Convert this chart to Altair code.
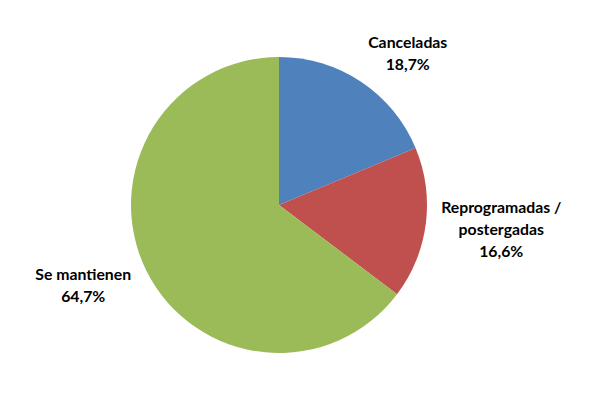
import altair as alt
import pandas as pd

categories = ["Canceladas", "Reprogramadas /\npostergadas", "Se mantienen"]
values = [18.7, 16.6, 64.7]
colors = ["#4F81BD", "#C0504D", "#9BBB59"]

df = pd.DataFrame({"cat": categories, "value": values, "order": [0, 1, 2]})
total = sum(values)
theta_scale = alt.Scale(domain=[0, total], zero=True, nice=False)

base = alt.Chart(df).transform_stack(
    stack="value", groupby=[], as_=["v0", "v1"], sort=[alt.SortField("order", order="ascending")]
).transform_calculate(
    mid="(datum.v0 + datum.v1) / 2",
    lbl="datum.cat + '\\n' + replace(format(datum.value, '.1f'), '.', ',') + '%'",
)

pie = base.mark_arc(outerRadius=148).encode(
    theta=alt.Theta("v0:Q", scale=theta_scale),
    theta2="v1:Q",
    color=alt.Color("cat:N", scale=alt.Scale(domain=categories, range=colors), legend=None),
)

def label(cat, radius, dx, dy):
    return base.transform_filter(alt.datum.cat == cat).mark_text(
        radius=radius, dx=dx, dy=dy, font="Lato", fontSize=15.8, fontWeight="bold",
        lineBreak="\n", lineHeight=22, align="center", baseline="middle", color="#000000"
    ).encode(
        theta=alt.Theta("mid:Q", scale=theta_scale),
        text="lbl:N",
    )

chart = alt.layer(
    pie,
    label(categories[0], 198, 19, 3),
    label(categories[1], 223, 1, -25),
    label(categories[2], 212, -6, -24),
).properties(
    width=542, height=394,
    autosize=alt.AutoSizeParams(type="none"),
    padding={"left": 0, "top": 0, "right": 42, "bottom": 9},
).configure_view(stroke=None)

chart.save("out.html", embed_options={"renderer": "svg", "actions": False})
